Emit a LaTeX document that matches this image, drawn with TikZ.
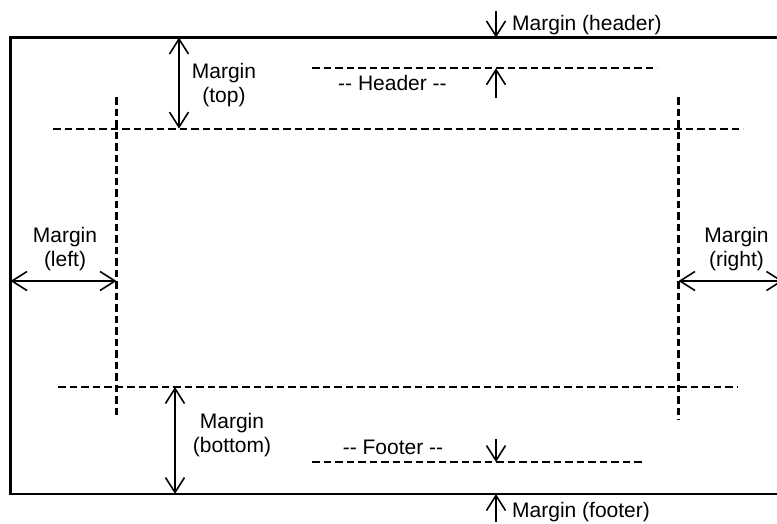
\documentclass[tikz,border=0pt]{standalone}
\usepackage{fontspec}
\setmainfont{Liberation Sans}
\usetikzlibrary{arrows.meta}
\begin{document}
\begin{tikzpicture}[x=1pt,y=-1pt,
  lbl/.style={font=\fontsize{21}{24}\selectfont, align=center, inner sep=0pt},
  dimline/.style={line width=1.6pt, {Straight Barb[length=15pt,width=19pt]}-{Straight Barb[length=15pt,width=19pt]}},
  oneway/.style={line width=1.6pt, -{Straight Barb[length=15pt,width=19pt]}},
  guide/.style={line width=2.1pt, dash pattern=on 7.5pt off 4pt},
  frame/.style={line width=2.2pt}]
\useasboundingbox (0,0) rectangle (777,523);
\clip (0,0) rectangle (777,523);
% page frame
\coordinate (pTL) at (10.5,37.5);
\coordinate (pBR) at (783,494);
\draw[frame] (pTL) rectangle (pBR);
% guide lines
\coordinate (gT1) at (53,128.6);  \coordinate (gT2) at (743,128.6);
\coordinate (gB1) at (58,387);    \coordinate (gB2) at (737,387);
\coordinate (gL1) at (116.5,97);  \coordinate (gL2) at (116.5,417);
\coordinate (gR1) at (678.5,97);  \coordinate (gR2) at (678.5,420);
\coordinate (gH1) at (312,68.3);  \coordinate (gH2) at (657,68.3);
\coordinate (gF1) at (312,462);   \coordinate (gF2) at (645,462);
\draw[guide] (gT1) -- (gT2);
\draw[guide] (gB1) -- (gB2);
\draw[guide] (gL1) -- (gL2);
\draw[guide] (gR1) -- (gR2);
\draw[guide] (gH1) -- (gH2);
\draw[guide] (gF1) -- (gF2);
% dimension arrows
\coordinate (aT1) at (179,37.5);  \coordinate (aT2) at (179,128.6);
\coordinate (aB1) at (175,387);   \coordinate (aB2) at (175,494);
\coordinate (aL1) at (10.5,281);  \coordinate (aL2) at (116.5,281);
\coordinate (aR1) at (678.5,281); \coordinate (aR2) at (783,281);
\draw[dimline] (aT1) -- (aT2);
\draw[dimline] (aB1) -- (aB2);
\draw[dimline] (aL1) -- (aL2);
\draw[dimline] (aR1) -- (aR2);
% header / footer arrows
\coordinate (mh0) at (496,11);   \coordinate (mh1) at (496,37.5);
\coordinate (hd0) at (496,98);   \coordinate (hd1) at (496,68.3);
\coordinate (ft0) at (496,439);  \coordinate (ft1) at (496,462);
\coordinate (mf0) at (496,522);  \coordinate (mf1) at (496,494);
\draw[oneway] (mh0) -- (mh1);
\draw[oneway] (hd0) -- (hd1);
\draw[oneway] (ft0) -- (ft1);
\draw[oneway] (mf0) -- (mf1);
% labels
\node[lbl, anchor=base west] (lmh) at (512,30) {Margin (header)};
\node[lbl, anchor=base west] (lmf) at (512,517.3) {Margin (footer)};
\node[lbl, anchor=base] (lhd) at (392.5,90.5) {-{}- Header -{}-};
\node[lbl, anchor=base] (lft) at (393,454) {-{}- Footer -{}-};
\node[lbl, anchor=base] (ltop) at (224,102) {Margin\\(top)};
\node[lbl, anchor=base] (lbot) at (232,452) {Margin\\(bottom)};
\node[lbl, anchor=base] (llft) at (65,266) {Margin\\(left)};
\node[lbl, anchor=base] (lrgt) at (736.5,266) {Margin\\(right)};
\end{tikzpicture}
\end{document}
